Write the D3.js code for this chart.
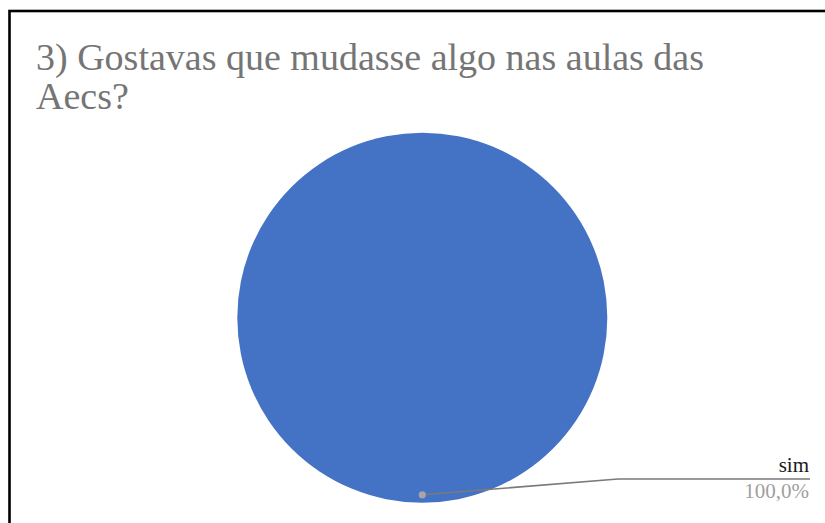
<!DOCTYPE html>
<html>
<head>
<meta charset="utf-8">
<script src="https://cdn.jsdelivr.net/npm/d3@7"></script>
<style>
  html, body { margin: 0; padding: 0; background: #fff; }
  svg { display: block; }
</style>
</head>
<body>
<div id="chart"></div>
<script>
(function() {
  var titleLines = ['3) Gostavas que mudasse algo nas aulas das', 'Aecs?'];
  var categories = ['sim'];
  var values = [100];
  var colors = ['#4472C4'];

  var width = 825, height = 523;
  var cx = 422.3, cy = 317.7, radius = 185;
  var serif = '"Liberation Serif", "Times New Roman", serif';

  var svg = d3.select('#chart').append('svg')
    .attr('width', width)
    .attr('height', height);

  svg.append('rect')
    .attr('width', width)
    .attr('height', height)
    .attr('fill', '#fff');

  // frame: only top and left edges are inside the crop
  svg.append('rect')
    .attr('x', 9.5).attr('y', 11)
    .attr('width', width + 20).attr('height', height + 20)
    .attr('fill', 'none')
    .attr('stroke', '#000')
    .attr('stroke-width', 2.6);

  svg.append('text')
    .attr('x', 36)
    .attr('y', 70)
    .attr('fill', '#757575')
    .style('font-family', serif)
    .style('font-size', '38px')
    .selectAll('tspan').data(titleLines).enter().append('tspan')
    .attr('x', 36)
    .attr('dy', function(d, i) { return i ? 39 : 0; })
    .text(function(d) { return d; });

  var data = categories.map(function(c, i) { return { name: c, value: values[i], color: colors[i] }; });
  var total = d3.sum(values);

  var pie = d3.pie().sort(null).value(function(d) { return d.value; });
  var arc = d3.arc().innerRadius(0).outerRadius(radius);
  var dotArc = d3.arc().innerRadius(radius * 0.957).outerRadius(radius * 0.957);

  var g = svg.append('g').attr('transform', 'translate(' + cx + ',' + cy + ')');
  var slices = pie(data);

  g.selectAll('path.slice').data(slices).enter().append('path')
    .attr('class', 'slice')
    .attr('d', arc)
    .attr('fill', function(d) { return d.data.color; });

  // leader line + labels
  var labelX = 810, lineY = 479, elbowX = 618;
  slices.forEach(function(s) {
    var p = dotArc.centroid(s);
    var px = cx + p[0], py = cy + p[1];
    svg.append('polyline')
      .attr('points', [[px, py], [elbowX, lineY], [labelX, lineY]].map(function(q) { return q.join(','); }).join(' '))
      .attr('fill', 'none')
      .attr('stroke', '#7a7a7a')
      .attr('stroke-width', 1.6);
    svg.append('circle')
      .attr('cx', px).attr('cy', py).attr('r', 3.6)
      .attr('fill', '#a6a6a6');
    svg.append('text')
      .attr('x', labelX - 1).attr('y', 472)
      .attr('text-anchor', 'end')
      .attr('fill', '#1a1a1a')
      .style('font-family', serif)
      .style('font-size', '21px')
      .text(s.data.name);
    svg.append('text')
      .attr('x', labelX - 1).attr('y', 498)
      .attr('text-anchor', 'end')
      .attr('fill', '#a0a0a0')
      .style('font-family', serif)
      .style('font-size', '21px')
      .text(d3.format('.1f')(s.data.value / total * 100).replace('.', ',') + '%');
  });
})();
</script>
</body>
</html>
